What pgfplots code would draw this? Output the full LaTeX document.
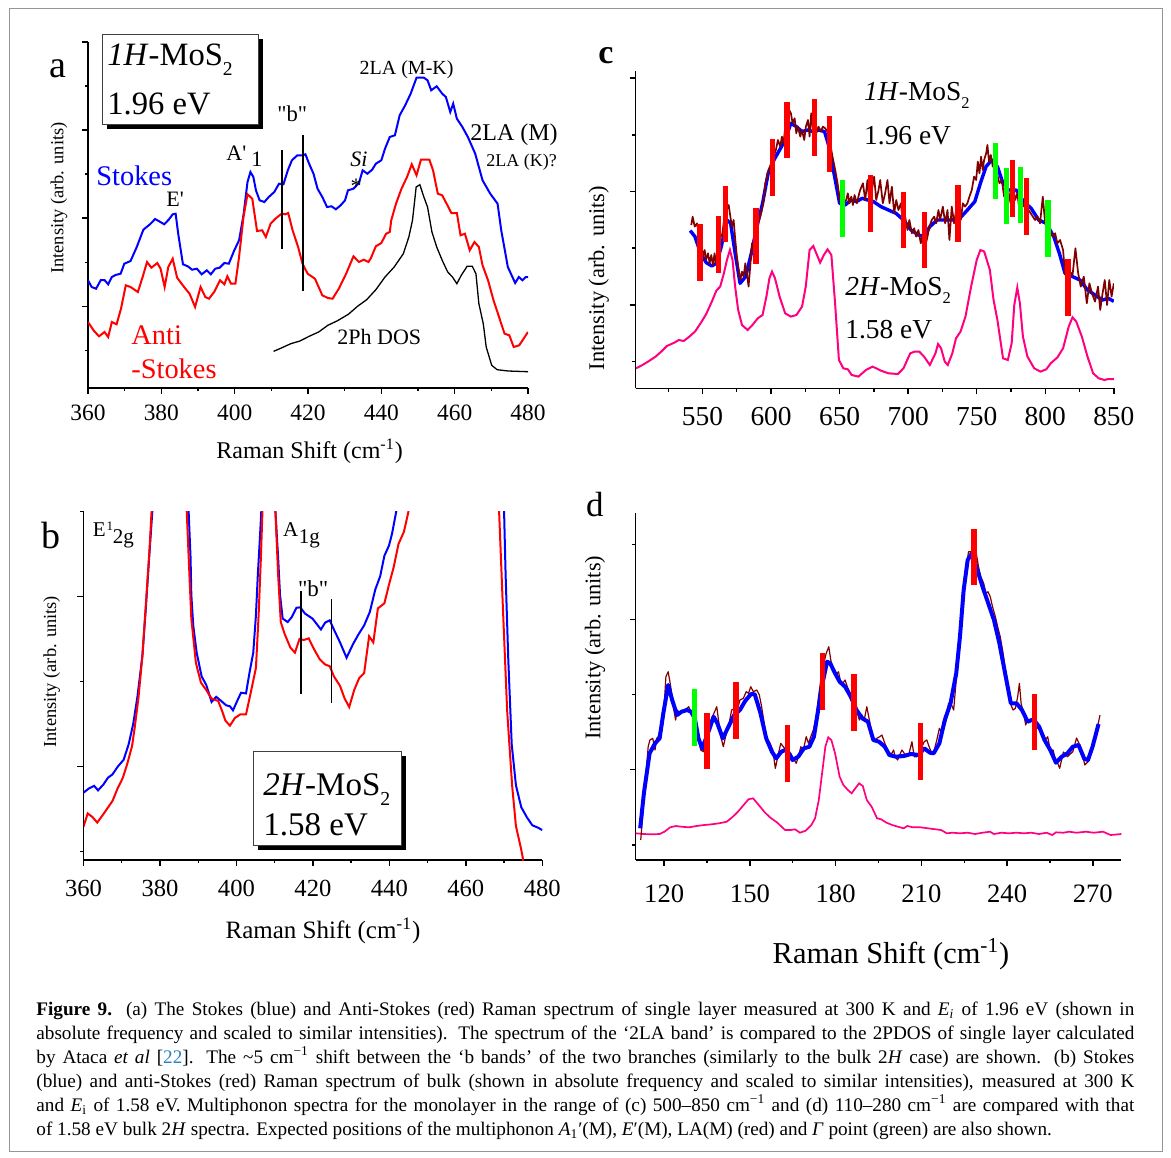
\documentclass[border=0pt]{standalone}
\usepackage{fontspec}
\setmainfont{Liberation Serif}
\newfontfamily\plainfont{Liberation Serif}[Ligatures=TeXOff]
\usepackage{pgfplots}
\pgfplotsset{compat=1.18}

\definecolor{spblue}{RGB}{0,0,255}
\definecolor{spred}{RGB}{255,0,0}
\definecolor{spbrown}{RGB}{128,0,0}
\definecolor{sppink}{RGB}{255,0,128}
\definecolor{spgreen}{RGB}{0,255,0}
\definecolor{citeblue}{RGB}{40,130,200}
\definecolor{framegray}{RGB}{150,150,150}

\newcommand{\fs}[1]{\fontsize{#1}{#1}\selectfont}
\newcommand{\sub}[1]{\raisebox{-0.32em}{\scalebox{0.6}{#1}}}
\newcommand{\sq}{{\plainfont '}}
\newcommand{\dq}{{\plainfont "}}

\pgfplotsset{
  spec/.style={
    scale only axis,
    anchor=south west,
    axis x line*=bottom,
    axis y line*=left,
    axis line style={line width=0.75pt, black},
    tick align=outside,
    major tick length=3pt,
    minor tick length=1.6pt,
    every tick/.style={line width=0.7pt, black},
    yticklabel={\mbox{}},
    /pgf/number format/assume math mode=true,
    /pgf/number format/1000 sep={},
    clip=true,
    unbounded coords=jump,
  },
  bar/.style={line width=2.7pt, line cap=butt},
}

\tikzset{lab/.style={inner sep=0pt, anchor=base west}}

\begin{document}
\begin{tikzpicture}[x=0.5pt, y=-0.5pt]
\path[use as bounding box] (0,0) rectangle (1171,1157);
\draw[framegray, line width=0.5pt] (9,8) rectangle (1162,1151);

% ---------------- panel a: 1H-MoS2, 1.96 eV ----------------
\begin{axis}[spec, at={(44pt,-194pt)}, width=220pt, height=173pt,
  xmin=360, xmax=480, ymin=0, ymax=346,
  xtick={360,380,...,480}, minor xtick={370,390,...,470},
  ytick={81.5,170,258,346}, minor ytick={37.3,125.7,214,302},
  xticklabel style={font=\fs{11.7}, yshift=-2pt}]
\addplot[spblue, line width=1pt] coordinates {
(360,107.7)(361,101)(362.2,99.3)(363.5,108)(364.5,108)(365.5,103.7)(366.5,111)(367.5,113)(368.9,114.3)(369.9,124.3)(371.6,127)(373.3,141)(375.1,158.3)(376.9,163.7)(378.3,169)(379.6,166.3)(380.8,163.7)(382.1,168.7)(383.1,173.7)(383.9,174.3)(384.6,154.3)(385.9,123.7)(387.2,121.7)(388.4,118.3)(389.7,119.3)(391,113.7)(392.4,117.7)(393.5,113.7)(394.7,119.3)(395.9,120.3)(397.2,125)(398.4,124.3)(399.9,137.7)(401.2,147.7)(402.4,172.7)(403.5,206)(404.3,216)(405.1,211)(405.8,197.7)(406.8,187.7)(408.1,186)(409.3,191)(410.8,196)(412.1,204.3)(413.3,203.7)(414.5,217.7)(415.6,227.7)(417.1,232.7)(418.5,232.7)(419.3,233.7)(420.3,224.3)(421.5,214.3)(422.6,199.3)(423.9,191)(425.2,181)(426.4,181.7)(427.6,178.7)(428.9,182.7)(430.1,187.7)(430.9,197.7)(432.4,199.3)(433.9,205)(434.9,217.7)(436.2,214.3)(437.5,218.3)(438.5,224.3)(440,227.7)(441,239.3)(442.3,251)(443.7,252.7)(445,272.7)(446.5,282.7)(448,294.3)(449.6,310.3)(451.6,310.3)(452.6,307.7)(453.6,297.7)(455.1,301.7)(456.6,294.3)(457.6,291)(458.8,276)(459.6,284.3)(460.6,269.3)(462.1,261)(463.6,251)(465.6,234.3)(467.6,207.7)(469.7,194.3)(471.7,184.3)(472.7,157.7)(474.5,121)(476.5,105)(477.5,111)(478.5,107.7)(479.4,111)(480,111)};
\addplot[spred, line width=1pt] coordinates {
(360,66)(361.5,57.7)(363,51.7)(364.5,56)(365.5,51)(366.5,66)(367.8,63.7)(369,79.3)(370.3,102.7)(371.6,101)(373.6,96)(374.9,111)(376.1,126)(377.3,120.3)(378.9,125)(379.8,119.3)(380.9,101)(381.9,121)(383.1,129.3)(384.3,110.3)(386.2,101)(387.7,94.3)(389.2,81)(390.7,101)(392,91)(393,89.3)(394.4,96)(396,107.7)(397.2,103.7)(398,111.7)(399,104.3)(400.2,104.3)(401.2,131)(402.4,171)(403.5,193.7)(404.8,189.3)(406.1,157)(407.5,157.7)(408.5,151)(409.8,164.3)(411.1,169.3)(412.8,174.3)(413.8,173.7)(414.6,175)(415.8,157.7)(417.3,141)(418.5,124.3)(419.9,114.3)(421.9,109.3)(423.9,92.7)(425.4,90)(426.7,89.3)(428.4,99.3)(430.4,114.3)(432.4,131.7)(433.9,126)(435.2,128.3)(436.5,126)(437.2,130.3)(438.5,141.7)(440,145)(441.3,154.3)(442.3,156)(442.7,167.7)(444,184.3)(445.5,199.3)(447,211)(448.3,223.7)(449.6,212.7)(450.8,228.3)(453.1,228.3)(454.1,217.7)(455.4,194.3)(456.6,192.7)(457.8,184.3)(459.1,175)(460.6,175)(461.6,152.7)(462.8,154.3)(464.1,137.7)(465.4,146)(466.6,141)(467.6,122.7)(469.1,107.7)(470.6,87.7)(472.1,71)(473.6,54.3)(474.9,52.7)(476.1,41)(477.6,42.7)(479.1,51)(480,56)};
\addplot[black, line width=0.65pt] coordinates {
(410.6,36.7)(412.3,39.3)(415.3,44.3)(417.8,47)(420.3,51.7)(422.9,56)(425.4,62.7)(427.9,67)(431,73.7)(433.5,81.7)(436,88.3)(438.5,98.3)(441,111)(443.5,121)(446,134.3)(447.5,151)(448.5,167.7)(449.5,201)(450.5,203.3)(451.6,191)(452.6,181)(453.8,156)(455.1,141)(456.6,127.7)(458.1,116)(459.4,111)(460.6,104.3)(461.8,112.7)(463.4,121.7)(464.8,121.7)(465.8,114.3)(466.6,84.3)(467.8,64.3)(468.6,41)(470.1,22.7)(471.6,18.3)(474.6,17)(480,16.3)};
% positions of the two "b" bands
\addplot[black, line width=0.9pt] coordinates {(412.8,139.3)(412.8,238.3)(412.8,nan)(418.7,97)(418.7,253.3)};
\end{axis}

\fill[black] (106.5,38.5) rectangle (262.5,128.5);
\draw[fill=white, draw=black!75, line width=0.5pt] (102,34) rectangle (258,124);
\node[lab, font=\fs{16.3}] at (107,65) {\textit{1H}-MoS\sub{2}};
\node[lab, font=\fs{16.3}] at (107,114.3) {1.96 eV};
\node[lab, font=\fs{19}] at (49,77.3) {a};
\node[lab, font=\fs{14.2}, text=spblue] at (96,185) {Stokes};
\node[lab, font=\fs{11}] at (166,206.7) {E\sq};
\node[lab, font=\fs{11}] at (226,160) {A\sq};
\node[lab, font=\fs{11}] at (251,166.7) {1};
\node[lab, font=\fs{11.3}] at (277,121.7) {\dq b\dq};
\node[inner sep=0pt, anchor=base, font=\fs{10}] at (406.6,74) {2LA (M-K)};
\node[lab, font=\fs{12}] at (470,140) {2LA (M)};
\node[lab, font=\fs{9}] at (486,166.7) {2LA (K)?};
\node[lab, font=\fs{11}] at (350,166.7) {\textit{Si}};
\node[inner sep=0pt, font=\fs{11}] at (356,186) {*};
\node[lab, font=\fs{14.2}, text=spred] at (131,344) {Anti};
\node[lab, font=\fs{14.2}, text=spred] at (131,378) {-Stokes};
\node[lab, font=\fs{11}] at (337,344) {2Ph DOS};
\node[inner sep=0pt, anchor=base, font=\fs{12}] at (309.6,458) {Raman Shift (cm\textsuperscript{-1})};
\node[inner sep=0pt, rotate=90, font=\fs{9.2}] at (59,198) {Intensity (arb. units)};

% ---------------- panel b: 2H-MoS2, 1.58 eV ----------------
\begin{axis}[spec, at={(41.75pt,-430pt)}, width=229.4pt, height=170.85pt,
  xmin=360, xmax=480, ymin=0, ymax=341.7,
  xtick={360,380,...,480}, minor xtick={370,390,...,470},
  ytick={91.7,258.3}, minor ytick={8.3,175,341.7},
  xticklabel style={font=\fs{12.3}, yshift=-3.5pt}]
\addplot[spblue, line width=1pt] coordinates {
(360,66)(361.35,70)(362.8,72.7)(363.8,68.3)(365.2,74)(366.4,80.7)(367.6,84)(368.9,91.3)(370.5,98.3)(371.8,113.3)(373,133.3)(374.1,160)(375.4,200)(376.3,246.7)(377.3,303.3)(378,341.7)(378.8,400)
(387,400)(387.5,341.7)(388,296.7)(388.2,260)(388.7,230)(389.6,203.3)(390.9,180)(392.1,171.7)(393.5,155)(394.7,160)(396,156)(397.3,151.7)(398.3,150.7)(399.1,146.7)(400.2,156)(401.2,164)(402.5,163.3)(403.4,183.3)(404.4,203.3)(405.1,240)(405.6,280)(406.1,313)(406.5,341.7)(407,400)
(409.8,400)(410.2,341.7)(410.9,296.7)(411.4,260)(412.1,236.7)(413.4,233.3)(414.5,238.3)(415.7,247.3)(416.7,247.7)(417.9,241.7)(419.9,236.7)(422.1,226)(423.2,232.7)(424.4,235)(425.4,226.7)(427.1,213.3)(428.8,198.3)(430.5,211.7)(432,221.7)(433.4,230)(434.9,243.3)(436.3,265)(437.6,278.3)(438.7,298.3)(439.9,308.3)(440.7,320)(441.8,341.7)(442.5,400)
(469.5,400)(470,341.7)(470.4,280)(471.1,196.7)(472,113.3)(473.1,73.3)(474.5,51.7)(476,41.7)(477.4,34)(478.9,31.7)(480,29.3)};
\addplot[spred, line width=1pt] coordinates {
(360,32.7)(361.1,45.7)(362.3,42.3)(363.6,36.7)(365.2,45)(367.6,58)(368.9,70)(370.3,80.7)(371.5,95)(372.7,111.7)(373.4,130)(374.4,160)(375.4,200)(376.3,250)(377.3,306.7)(377.8,341.7)(378.5,400)
(386.5,400)(387,341.7)(387.7,280)(388.2,236.7)(389.4,193.3)(390.7,174)(392.1,166.7)(393.5,158.3)(395.2,156)(396.2,146.7)(397.1,136.7)(398.3,131.7)(399.6,139.3)(401,142.7)(402.5,142.7)(403.7,163.3)(405.1,188.3)(405.8,240)(406.4,296.7)(406.8,341.7)(407.3,400)
(409.8,400)(410.2,341.7)(410.9,280)(411.6,233.3)(412.6,221.7)(414.1,208.3)(415.3,203.3)(416.5,216.7)(417.6,215.7)(418.9,217.3)(420.3,206.7)(421.8,196.7)(423.2,191.7)(424.4,190)(425.5,180)(427.1,170.7)(428.3,158.3)(429.5,150)(430.8,166.7)(432.1,178.3)(433.4,183.3)(434.7,219.3)(435.8,213.3)(437,246.7)(438.7,251.7)(439.9,270)(441.1,286.7)(442.4,310)(443.8,321.7)(445,341.7)(445.5,400)
(468.2,400)(468.7,341.7)(469.7,246.7)(470.8,146.7)(472.1,73.3)(473.1,33.3)(474.5,10)(475,0)(475.3,-20)};
\addplot[black, line width=0.85pt] coordinates {(416.8,162.7)(416.8,264)(416.8,nan)(424.9,154.3)(424.9,256)};
\end{axis}

\fill[black] (257.9,756) rectangle (405.5,850);
\draw[fill=white, draw=black!75, line width=0.5pt] (253.6,751.7) rectangle (401,845.7);
\node[lab, font=\fs{16.5}] at (263,795) {\textit{2H}-MoS\sub{2}};
\node[lab, font=\fs{16.5}] at (263,835) {1.58 eV};
\node[lab, font=\fs{19}] at (41,548.3) {b};
\node[lab, font=\fs{10.5}] at (92.4,536.7) {E};
\node[lab, font=\fs{6.5}] at (106.3,530) {1};
\node[lab, font=\fs{10.5}] at (112.5,543.3) {2g};
\node[lab, font=\fs{10.5}] at (282.8,536.7) {A};
\node[lab, font=\fs{10.5}] at (298.5,543.3) {1g};
\node[lab, font=\fs{11.5}] at (297.6,596.7) {\dq b\dq};
\node[inner sep=0pt, anchor=base, font=\fs{12.5}] at (323,938.3) {Raman Shift (cm\textsuperscript{-1})};
\node[inner sep=0pt, rotate=90, font=\fs{9.2}] at (51.8,671.7) {Intensity (arb. units)};

% ---------------- panel c: multiphonon range 500-850 ----------------
\begin{axis}[spec, at={(317.8pt,-194.15pt)}, width=239.1pt, height=158.8pt,
  xmin=501.2, xmax=850, ymin=0, ymax=317.6,
  xtick={550,600,...,850}, minor xtick={525,575,...,825},
  ytick={83.5,196.8,310.2}, minor ytick={26.8,140.2,253.5},
  xticklabel style={font=\fs{13.7}, yshift=-3pt}]
\addplot[sppink, line width=1pt] coordinates {
(501.5,20)(506.2,23.3)(510.3,26.7)(515.8,31.7)(519.9,36.7)(524,42.3)(529.5,45.7)(532.7,48.3)(536.3,47.3)(540.4,51.7)(544.5,56.7)(548.6,65)(552.7,74.3)(556.8,86.7)(560.1,97.7)(562.9,101.7)(565.6,115)(567.8,128.3)(570,138.3)(571.9,128.3)(573.8,101.7)(576,78.3)(578.8,63.3)(582.9,58.3)(586.4,63.3)(590.3,70)(593.8,73.3)(596.6,91.7)(598.8,110)(600.7,116.7)(602.9,110)(606.2,91.7)(610.3,75)(614.4,71.7)(618.5,73.3)(622.6,81.7)(625.3,101.7)(628.1,138.3)(630.8,142.3)(633,135)(635.8,125.7)(638.5,133.3)(641.2,139)(644,133.3)(646.7,85)(649.5,28.3)(652.7,20)(656,19)(658.8,13.3)(663.7,11.7)(669.2,18.3)(674.1,21.7)(680.1,17.7)(685.6,15)(692.5,14.3)(696.6,20)(701.5,35)(704.8,36.7)(708.1,36.7)(711.6,31.7)(715.8,23.3)(719.9,35)(721.8,44.3)(724,40)(726.7,26.7)(728.9,23.3)(732.2,35)(734.9,50)(738.2,56.7)(741.8,71.7)(745.9,101.7)(750,128.3)(752.7,138.3)(755.5,136.7)(759.6,118.3)(762.3,88.3)(765.1,68.3)(769.2,30)(772.7,28.3)(775.5,45)(777.4,83.3)(779.6,100.7)(781.5,85)(783.7,51.7)(787,31.7)(791.9,20)(796.6,16.7)(800.7,19)(804,25)(808.9,31)(813,40)(817.1,61.7)(819.9,71)(822.6,66.7)(826.7,51.7)(830.8,31.7)(834.9,15)(839,10)(843.2,8.3)(845.9,9.3)(850,9.3)};
\addplot[spblue, line width=1.7pt, line join=round] coordinates {
(541,157.7)(544.5,151.7)(548.6,135)(552.7,125.7)(556.8,122.3)(560.1,125)(563.7,141.7)(567.8,168.3)(570.5,165)(573.8,135)(577.4,105)(581.5,111.7)(585.6,135)(589.7,161.7)(593.8,185)(597.9,215)(602.1,228.3)(606.2,238.3)(610.3,248.3)(614.4,265)(618.5,261.7)(622.6,256.7)(626.7,258.3)(630.8,256.7)(634.9,258.3)(639,256.7)(642.3,241.7)(645.9,215)(650,185)(654.1,183.3)(658.2,188.3)(662.3,186.7)(666.4,190)(670.5,188.3)(674.7,186.7)(680.1,181.7)(685.6,178.3)(691.1,175)(696.6,168.3)(702.1,158.3)(707.5,153.3)(711.6,151.7)(715.8,161.7)(721.2,168.3)(726.7,168.3)(732.2,168.3)(737.7,170)(743.2,178.3)(748.6,186.7)(752.7,205)(756.8,221.7)(761,228.3)(765.1,221.7)(769.2,205)(773.3,198.3)(778.8,198.3)(784.2,186.7)(789.7,180)(795.2,168.3)(800.7,165)(806.2,151.7)(810.3,135)(814.4,115)(819.9,111.7)(825.3,108.3)(830.8,98.3)(836.3,93.3)(841.8,88.3)(845.9,90)(850,87)};
\addplot[spbrown, line width=0.85pt, line join=round] coordinates {
(541.8,163.3)(542.8,171.7)(544.3,161.7)(546,165)(547.2,155)(549.1,145)(550.3,131.7)(551.6,138.3)(552.5,128.3)(554,135)(555.2,125)(556.4,133.3)(557.6,123.3)(558.8,135)(559.8,125)(561.3,141.7)(562.5,155)(564.2,151.7)(565.4,165)(566.6,175)(569.1,183.3)(570.3,171.7)(571.5,161.7)(572.7,168.3)(573.9,148.3)(575.1,131.7)(576.3,118.3)(577.6,108.3)(578.8,116.7)(580,111.7)(581.2,125)(582.4,115)(583.6,101.7)(584.8,121.7)(586.1,145)(587.5,138.3)(589,158.3)(590.4,165)(592.1,171.7)(593.3,178.3)(594.6,188.3)(595.8,205)(597,211.7)(598.2,218.3)(600.1,225)(601.8,231.7)(603.5,238.3)(605,248.3)(606.7,241.7)(607.9,251.7)(609.1,245)(610.4,261.7)(612.1,265)(613.3,278.3)(614.5,275)(615.7,265)(617.2,270)(618.4,255)(619.6,261.7)(621.3,251.7)(622.5,258.3)(624.2,248.3)(625.4,261.7)(626.9,268.3)(628.1,251.7)(629.3,275)(630.5,258.3)(631.7,265)(632.9,255)(634.6,261.7)(636.3,256.7)(637.8,261.7)(639.5,260)(641.2,256.7)(643.1,245)(644.8,231.7)(646.8,218.3)(648.5,205)(650.2,188.3)(651.7,178.3)(653.4,185)(654.8,188.3)(656,195)(657.2,185)(658.5,191.7)(659.7,183.3)(660.9,193.3)(662.6,185)(664.3,195)
(665,198.3)(667,205)(668.7,188.3)(670.3,208.3)(671.8,185)(673.5,198.3)(675.2,211.7)(676.7,188.3)(678.4,198.3)(679.6,208.3)(681.5,185)(683.2,195)(684.9,208.3)(686.4,185)(688.1,201.7)(689.8,175)(691.3,188.3)(692.9,178.3)(694.7,185)(696.1,166.7)(697.8,171.7)(699.5,158.3)(700.9,168.3)(702.7,155)(704.4,160)(705.8,151.7)(707.5,158.3)(709.2,145)(710.7,155)(712.4,141.7)(714.1,151.7)(715.5,161.7)(717.2,168.3)(719,171.7)(720.4,165)(722.1,178.3)(723.3,168.3)(725.3,181.7)(727,165)(728.7,178.3)(730.1,148.3)(731.8,181.7)(733.5,165)(735,178.3)(736.7,188.3)(738.4,168.3)(739.9,185)(741.5,181.7)(743.2,185)(744.7,191.7)(746.4,198.3)(748.1,211.7)(749.6,208.3)(750.8,226.7)(752,215)(753.2,231.7)(754.4,218.3)(755.4,228.3)(756.9,235)(757.8,243.3)(759,226.7)(760.3,233.3)(761.7,221.7)(763.4,225)(764.7,215)(766.6,205)(768.3,208.3)(770,191.7)(771.4,201.7)(773.1,185)(774.9,198.3)(776.3,205)(778,188.3)(779.7,195)(781.1,178.3)(782.9,188.3)(784.5,181.7)(786,191.7)(787.7,178.3)(789.4,175)(790.9,171.7)(792.6,168.3)(794.2,171.7)(796.2,165)(798.2,191.7)(799.9,165)(801.5,161.7)(803.5,158.3)(805.5,151.7)(807.2,155)(808.8,145)(810.8,148.3)
(813,138.3)(814.4,115)(815.8,110)(817.1,118.3)(819.9,113.3)(822,140)(824,115)(825.9,101.7)(828.1,111.7)(830.3,85)(832.2,105)(834.1,95)(836.3,86.7)(838.5,101.7)(840.1,78.3)(841.8,95)(843.4,108.3)(845.1,83.3)(846.7,108.3)(848.4,91.7)(850,105)};
% expected multiphonon positions: A1'(M), E'(M), LA(M) combinations
\addplot[spred, bar] coordinates {
(548.1,107.7)(548.1,164.3)(548.1,nan)
(561.8,115.7)(561.8,172.3)(561.8,nan)
(566.7,146)(566.7,202.6)(566.7,nan)
(588.9,124)(588.9,180.6)(588.9,nan)
(601.2,192.7)(601.2,249.3)(601.2,nan)
(611.6,230)(611.6,286.6)(611.6,nan)
(631.6,232.7)(631.6,289.3)(631.6,nan)
(642.6,216)(642.6,272.6)(642.6,nan)
(672.7,156.7)(672.7,213.3)(672.7,nan)
(696.6,140)(696.6,196.6)(696.6,nan)
(711.9,120)(711.9,176.6)(711.9,nan)
(736.3,146.7)(736.3,203.3)(736.3,nan)
(776,171.7)(776,228.3)(776,nan)
(786.2,153.4)(786.2,210)(786.2,nan)
(816.6,72.7)(816.6,129.3)};
% Gamma-point combinations
\addplot[spgreen, bar] coordinates {
(652.2,151.7)(652.2,208.3)(652.2,nan)
(763.7,189)(763.7,245.6)(763.7,nan)
(771.9,164)(771.9,220.6)(771.9,nan)
(782,165)(782,221.6)(782,nan)
(802,131.7)(802,188.3)};
\end{axis}

\node[lab, font=\bfseries\fs{17}] at (598,63.3) {c};
\node[lab, font=\fs{13.7}] at (863.8,100) {\textit{1H}-MoS\sub{2}};
\node[lab, font=\fs{13.7}] at (863.8,144) {1.96 eV};
\node[lab, font=\fs{13.7}] at (845,295) {\textit{2H}-MoS\sub{2}};
\node[lab, font=\fs{13.7}] at (845,338.3) {1.58 eV};
\node[inner sep=0pt, rotate=90, font=\fs{11.2}] at (598.8,278) {Intensity (arb. units)};

% ---------------- panel d: multiphonon range 110-280 ----------------
\begin{axis}[spec, at={(317.8pt,-430pt)}, width=242.9pt, height=173.35pt,
  xmin=110, xmax=280, ymin=0, ymax=346.7,
  xtick={120,150,...,270}, minor xtick={135,165,...,255},
  ytick={90.7,240.7}, minor ytick={15,165.7,315.7},
  xticklabel style={font=\fs{13.3}, yshift=-6pt}]
\addplot[sppink, line width=0.85pt] coordinates {
(110,26.7)(112.9,26)(115.5,25.7)(118.4,26)(120.1,28.3)(122.1,32.7)(124.1,34)(126.1,33.3)(128.7,32.7)(131.3,34)(134,35)(136.6,35.7)(139.2,36.7)(141.9,38.3)(143.8,42.7)(145.8,48.3)(147.8,55)(149.5,60.7)(151.1,61.7)(153.1,55)(155,48.3)(157,42.7)(159.6,37.3)(162.3,30)(164.3,30)(165.8,30.7)(167.5,27.3)(169.5,29.3)(171.5,35)(172.8,41.7)(174.1,60)(175.4,90)(176.4,113.3)(177.4,122.7)(178.5,120)(179.8,106.7)(181.4,83.3)(182.7,75)(184.3,70)(185.6,66.7)(186.9,71.7)(188.2,76.7)(189.5,74)(190.9,60)(192.6,53.3)(194.5,41.7)(195.9,40.7)(197.8,37.3)(199.8,35)(201.8,33.3)(203.8,31.7)(205.1,34)(207.1,32.7)(209.7,32.7)(212.3,31.7)(215,30.7)(216.9,30)(218.9,26.7)(220.9,27.3)(223.5,26.7)(226.2,27.3)(228.8,26)(231.4,27.3)(234,28.3)(235.4,26)(238,27.3)(240.6,26.7)(243.3,27.3)(245.9,26.7)(248.5,27.3)(251.2,26)(253.8,27.3)(255.8,25)(257.1,27.7)(259.7,27.3)(261.7,28.3)(264.3,27.3)(267.6,28.3)(270.3,27.3)(273.6,28.3)(276.2,25)(280,26)};
\addplot[spbrown, line width=0.6pt, line join=round] coordinates {
(111.8,20)(112.7,53.3)(114.4,113.3)(115,120)(116,121.7)(116.8,110)(117.4,121.7)(117.9,123.3)(118.5,130)(119.1,128.3)(119.7,140)(120.6,183.3)(121.4,188.3)(122.3,173.3)(123.2,153.3)(124,140)(124.6,150)(125.5,146.7)(126.5,148.3)(127.3,150)(127.9,151.7)(128.6,153.3)(129.3,148.3)(130,143.3)(130.8,133.3)(132,120)(132.8,110)(133.7,108.3)(134.6,123.3)(135.6,133.3)(136.6,141.7)(137.4,146.7)(138.4,153.3)(139,140)(139.8,123.3)(140.7,113.3)(141.6,125)(142.5,133.3)(143.6,150)(144.8,151.7)(145.6,150)(146.5,160)(147.7,161.7)(148.7,168.3)(149.5,166.7)(150.3,173.3)(151.2,168.3)(152.4,170)(153.3,165)(154.1,153.3)(155,136.7)(155.9,120)(156.8,118.3)(158,110)(158.9,91.7)(160,106.7)(160.8,116.7)(161.7,113.3)(162.7,110)(163.5,105)(164.3,106.7)(165.2,101.7)(166.2,96.7)(167,103.3)(167.8,113.3)(168.7,110)(169.7,123.3)(170.5,116.7)(171.3,123.3)(172.2,130)(173.2,143.3)(174,163.3)(174.8,180)(175.7,195)(176.7,206.7)(177.6,213.3)(178.3,200)(179.2,188.3)(180.2,185)(181,188.3)
(181.6,180)(182.5,176.7)(183.3,180)(184.1,173.3)(185.1,166.7)(186,160)(186.8,158.3)(187.6,146.7)(188.3,140)(189.2,145)(190,140)(190.9,153.3)(191.8,140)(192.7,126.7)(193.5,120)(194.4,121.7)(195.4,123.3)(196.2,125)(197,118.3)(197.9,111.7)(198.9,106.7)(199.7,106.7)(200.3,110)(200.8,103.3)(201.7,100)(202.4,105)(203.2,110)(204,106.7)(204.9,103.3)(205.7,106.7)(206.7,118.3)(207.5,103.3)(208.4,103.3)(209.4,106.7)(210.2,113.3)(211,118.3)(211.9,120)(212.9,111.7)(213.7,106.7)(214.5,110)(215.4,120)(216.3,131.7)(217.2,126.7)(218,133.3)(218.7,140)(219.5,156.7)(220.3,156.7)(221.3,150)(222.2,180)(223,206.7)(223.8,236.7)(224.8,270)(225.7,293.3)(226.5,308.3)(227.5,308.3)(228.3,303.3)(229.2,306.7)(230,293.3)(230.8,283.3)(231.8,276.7)(232.6,266.7)(233.3,268.3)(234.1,263.3)(234.9,253.3)(235.9,243.3)(236.7,233.3)(237.6,223.3)(238.6,206.7)(239.4,190)(240.2,173.3)(241.1,156.7)(242.1,150)(242.9,151.7)(243.7,163.3)(244.3,176.7)(244.9,156.7)(245.8,146.7)(246.5,135)(247.2,140)(248.1,140)(249.1,141.7)(249.9,136.7)(250.7,131.7)(251.6,133.3)(252.6,123.3)(253.4,120)(254.2,123.3)(255.1,110)(256.1,110)(256.9,100)(257.7,96.7)(258.4,91.7)
(259.7,108)(261.1,103.3)(263,108.3)(264.3,122)(265.7,113.3)(267.2,95)(268.3,98.3)(269.6,110)(271.2,126.7)(272.5,145)};
\addplot[spblue, line width=2pt, line join=round] coordinates {
(111.6,31.7)(112.9,66.7)(114.9,106.7)(116.8,116.7)(118.4,121.7)(119.7,146.7)(121.4,175)(122.8,160)(124.5,145)(126.1,148.3)(128,150)(129.4,148.3)(130.7,141.7)(132,121.7)(133.3,111.7)(135.3,126.7)(137.3,143.3)(138.6,136.7)(140.5,121.7)(142.5,133.3)(144.5,145)(146.5,150)(148.4,159.3)(150.4,166)(151.7,165.7)(153.7,146.7)(155.7,121.7)(157.7,108.3)(159.2,101.7)(161,108.3)(162.9,110.7)(164.9,100)(166.9,103.3)(168.9,111.7)(170.8,113.3)(172.4,123.3)(173.7,146.7)(175.4,176.7)(177,198.3)(178.1,196.7)(179.8,186.7)(181.4,178.3)(183.3,173.3)(185.3,163.3)(187.3,150)(189.3,141.7)(191.3,138.3)(193.2,120)(195.2,118.3)(197.2,113.3)(198.8,105)(201.1,103.3)(203.8,104)(206.4,106)(209,105)(211,111.7)(213,107.3)(214.3,106.7)(216.3,116.7)(218.2,140)(220.2,156.7)(222.2,186.7)(223.5,223.3)(224.8,270)(226.2,300)(227.7,306.7)(229.4,291.7)(231.4,273.3)(233.4,256.7)(235.4,240)(237.3,216.7)(239.3,186.7)(241.3,156.7)(243.3,156.7)(245.2,150)(247.2,138.3)(249.2,140.7)(251.2,133.3)(253.1,120)(255.1,110)(257.1,97.3)(259.1,103.3)(261.1,106.7)(263,113.3)(265,115)(267,101.3)(268.3,100)(269.9,113.3)(272,136)};
\addplot[spgreen, bar] coordinates {(130.7,114.3)(130.7,170.7)};
\addplot[spred, bar] coordinates {
(135,91.1)(135,147.5)(135,nan)
(145.2,121.5)(145.2,177.9)(145.2,nan)
(163.1,78.5)(163.1,134.9)(163.1,nan)
(175.3,150.5)(175.3,206.9)(175.3,nan)
(186.4,129.5)(186.4,185.9)(186.4,nan)
(209.7,80.5)(209.7,136.9)(209.7,nan)
(228.4,275.1)(228.4,331.5)(228.4,nan)
(249.5,109.8)(249.5,166.2)};
\end{axis}

\node[lab, font=\fs{17.5}] at (585.6,516.7) {d};
\node[inner sep=0pt, anchor=base, font=\fs{15.2}] at (891,963.3) {Raman Shift (cm\textsuperscript{-1})};
\node[inner sep=0pt, rotate=90, font=\fs{11.2}] at (595,647.7) {Intensity (arb. units)};

% ---------------- caption ----------------
\begin{scope}[every node/.style={inner sep=0pt, anchor=base west, font=\fs{9.6}}]
\node at (36,1015) {\makebox[549pt][s]{\textbf{Figure 9.} (a) The Stokes (blue) and Anti-Stokes (red) Raman spectrum of single layer measured at 300 K and \textit{E\textsubscript{i}} of 1.96 eV (shown in}};
\node at (36,1039) {\makebox[549pt][s]{absolute frequency and scaled to similar intensities). The spectrum of the ‘2LA band’ is compared to the 2PDOS of single layer calculated}};
\node at (36,1063) {\makebox[549pt][s]{by Ataca \textit{et al} [\textcolor{citeblue}{22}]. The \textasciitilde5 cm\textsuperscript{−1} shift between the ‘b bands’ of the two branches (similarly to the bulk 2\textit{H} case) are shown. (b) Stokes}};
\node at (36,1087) {\makebox[549pt][s]{(blue) and anti-Stokes (red) Raman spectrum of bulk (shown in absolute frequency and scaled to similar intensities), measured at 300 K}};
\node at (36,1111) {\makebox[549pt][s]{and \textit{E}\textsubscript{i} of 1.58 eV. Multiphonon spectra for the monolayer in the range of (c) 500–850 cm\textsuperscript{−1} and (d) 110–280 cm\textsuperscript{−1} are compared with that}};
\node at (36,1135) {of 1.58 eV bulk 2\textit{H} spectra. Expected positions of the multiphonon \textit{A}\textsubscript{1}′(M), \textit{E}′(M), LA(M) (red) and \textit{Γ} point (green) are also shown.};
\end{scope}
\end{tikzpicture}
\end{document}
